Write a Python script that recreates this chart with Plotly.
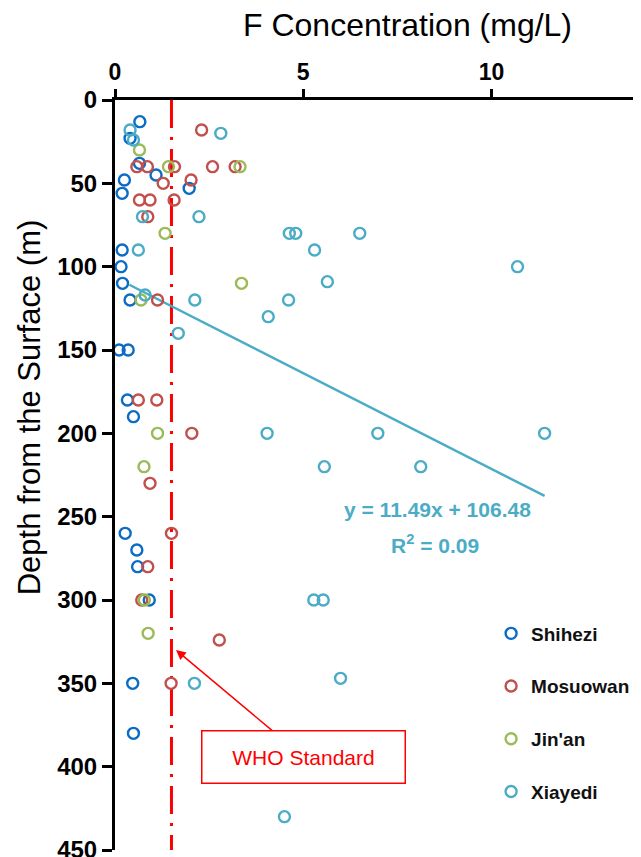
import plotly.graph_objects as go

# ---- data ----
shihezi_x = [0.66, 0.40, 0.65, 1.09, 0.25, 1.97, 0.19, 0.19, 0.16, 0.20, 0.40, 0.11, 0.35, 0.33, 0.49, 0.27, 0.58, 0.60, 0.91, 0.47, 0.49]
shihezi_y = [13, 23, 38, 45, 48, 53, 56, 90, 100, 110, 120, 150, 150, 180, 190, 260, 270, 280, 300, 350, 380]

mosuowan_x = [2.30, 0.58, 0.86, 1.58, 2.59, 3.19, 1.28, 2.02, 0.65, 0.93, 1.57, 0.87, 1.13, 0.62, 1.11, 2.04, 0.93, 1.50, 0.87, 0.71, 2.77, 1.49]
mosuowan_y = [18, 40, 40, 40, 40, 40, 50, 48, 60, 60, 60, 70, 120, 180, 180, 200, 230, 260, 280, 300, 324, 350]

jinan_x = [0.65, 1.42, 3.32, 1.33, 3.36, 0.69, 1.13, 0.77, 0.78, 0.88]
jinan_y = [30, 40, 40, 80, 110, 120, 200, 220, 300, 320]

xiayedi_x = [0.40, 2.81, 0.49, 0.73, 2.23, 4.63, 4.80, 6.50, 0.62, 5.30, 10.69, 5.64, 0.80, 2.12, 4.61, 4.07, 1.68, 4.04, 6.98, 11.41, 5.56, 8.12, 5.28, 5.53, 2.11, 5.99, 4.50]
xiayedi_y = [18, 20, 24, 70, 70, 80, 80, 80, 90, 90, 100, 109, 117, 120, 120, 130, 140, 200, 200, 200, 220, 220, 300, 300, 350, 347, 430]

trend_slope = 11.49
trend_intercept = 106.48
trend_x = [0.38, 11.41]
who_standard = 1.5

x_ticks = [0, 5, 10]
y_ticks = [0, 50, 100, 150, 200, 250, 300, 350, 400, 450]

colors = {"Shihezi": "#0A6CC4", "Mosuowan": "#C0504D", "Jin'an": "#9BBB59", "Xiayedi": "#4BACC6"}

FONT = "Liberation Sans, Arial, sans-serif"

fig = go.Figure()

# WHO standard line
fig.add_trace(go.Scatter(x=[who_standard, who_standard], y=[0, 450], mode="lines",
                         line=dict(color="#FF0000", width=3, dash="28px,9px,3px,9px"),
                         showlegend=False, hoverinfo="skip", cliponaxis=False))

# trend line
trend_y = [trend_slope * v + trend_intercept for v in trend_x]
fig.add_trace(go.Scatter(x=trend_x, y=trend_y, mode="lines",
                         line=dict(color="#4BACC6", width=2.5),
                         showlegend=False, hoverinfo="skip"))

series = [("Shihezi", shihezi_x, shihezi_y), ("Mosuowan", mosuowan_x, mosuowan_y),
          ("Jin'an", jinan_x, jinan_y), ("Xiayedi", xiayedi_x, xiayedi_y)]
for name, xs, ys in series:
    fig.add_trace(go.Scatter(x=xs, y=ys, mode="markers", name=name, legendgroup=name,
                             marker=dict(symbol="circle-open", size=11, color=colors[name],
                                         line=dict(width=2.4, color=colors[name])),
                             cliponaxis=False))

# The page body has an 8px margin, so the figure is drawn 8px right/down.
fig.update_layout(
    width=633, height=849,
    margin=dict(l=107, r=0, t=92, b=7, autoexpand=False),
    paper_bgcolor="white", plot_bgcolor="white",
    font=dict(family=FONT, color="black"),
    showlegend=True,
    legend=dict(x=0.715, y=0.314, xanchor="left", yanchor="top",
                font=dict(family=FONT, size=19, color="#111111", weight="bold"),
                tracegroupgap=25, bgcolor="rgba(0,0,0,0)"),
    xaxis=dict(side="top", range=[0, 13.97], tickvals=x_ticks, ticktext=[str(v) for v in x_ticks],
               showgrid=False, zeroline=False, showline=True, linecolor="black", linewidth=3,
               ticks="outside", ticklen=8, tickwidth=2.5, tickcolor="black",
               tickfont=dict(family=FONT, size=23, weight="bold")),
    yaxis=dict(range=[450, 0], tickvals=y_ticks, ticktext=[str(v) for v in y_ticks],
               showgrid=False, zeroline=False, showline=True, linecolor="black", linewidth=3,
               ticks="outside", ticklen=10, tickwidth=2.5, tickcolor="black",
               ticklabeloverflow="allow",
               tickfont=dict(family=FONT, size=24, weight="bold")),
)

# x-axis title (placed above the top axis like the reference)
fig.add_annotation(text="F Concentration (mg/L)", xref="paper", yref="paper",
                   x=0.556, y=1.1, showarrow=False, xanchor="center", yanchor="middle",
                   font=dict(family=FONT, size=32, color="black"))

# y-axis title
fig.add_annotation(text="Depth from the Surface (m)", xref="paper", yref="paper",
                   x=-0.162, y=0.59, textangle=-90, showarrow=False,
                   xanchor="center", yanchor="middle",
                   font=dict(family=FONT, size=31, color="black"))

# trend equation
fig.add_annotation(text="y = 11.49x + 106.48", x=8.57, y=245.4, xref="x", yref="y",
                   showarrow=False, font=dict(family=FONT, size=21, color="#4BACC6", weight="bold"))
fig.add_annotation(text="R<sup>2</sup> = 0.09", x=8.49, y=266.4, xref="x", yref="y",
                   showarrow=False, font=dict(family=FONT, size=21, color="#4BACC6", weight="bold"))

# WHO standard label with arrow
fig.add_annotation(text="WHO Standard", x=1.62, y=330, xref="x", yref="y",
                   ax=5.0, ay=394, axref="x", ayref="y", xanchor="center", yanchor="middle",
                   showarrow=True, arrowhead=2, arrowsize=1.3, arrowwidth=1.5, arrowcolor="#FF0000",
                   font=dict(family=FONT, size=21, color="#FF0000"),
                   bordercolor="#FF0000", borderwidth=1.5, borderpad=0,
                   width=202, height=51, bgcolor="white")

fig.write_html("out.html")
